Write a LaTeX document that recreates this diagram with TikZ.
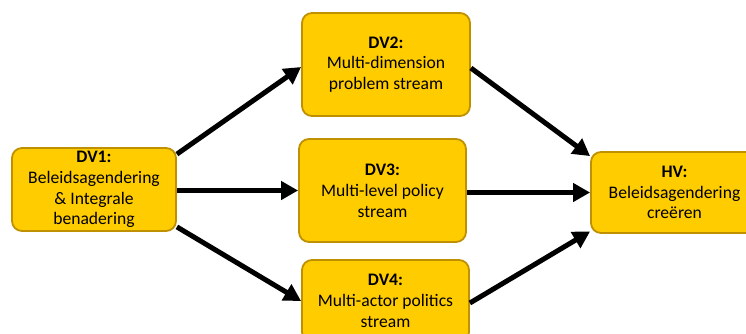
\documentclass[tikz,border=0pt]{standalone}
\usepackage{fontspec}
\setmainfont{Carlito}
\usetikzlibrary{arrows.meta}
\definecolor{boxfill}{RGB}{255,204,0}
\definecolor{boxline}{RGB}{191,144,0}
\begin{document}
\begin{tikzpicture}[x=1pt,y=-1pt,
  box/.style={draw=boxline, fill=boxfill, line width=1.8pt, rounded corners=10pt,
    align=center, inner sep=0pt, font=\fontsize{17.6}{20.8}\selectfont},
  link/.style={line width=5pt, -{Triangle[length=17pt,width=18pt]}}]
\useasboundingbox (0,0) rectangle (746,333);

% variables
\node[box, minimum width=164pt, minimum height=83pt] (dv1) at (94,189.5)
  {\textbf{DV1:}\\Beleidsagendering\\\& Integrale\\benadering};
\node[box, minimum width=168pt, minimum height=103pt] (dv2) at (386,64.5)
  {\textbf{DV2:}\\Multi-dimension\\problem stream};
\node[box, minimum width=167pt, minimum height=103pt] (dv3) at (382.5,190.5)
  {\textbf{DV3:}\\Multi-level policy\\stream};
\node[box, minimum width=167pt, minimum height=82pt] (dv4) at (385.5,301)
  {\textbf{DV4:}\\Multi-actor politics\\stream};
\node[box, minimum width=167pt, minimum height=81pt] (hv) at (674.5,192.5)
  {\textbf{HV:}\\Beleidsagendering\\creëren};

% relations
\draw[link] ([yshift=-7pt]dv1.north east) -- ([yshift=-2.5pt]dv2.west);
\draw[link] ([yshift=-1pt]dv1.east) -- ([yshift=-1pt]dv1.east -| dv3.west);
\draw[link] ([yshift=5pt]dv1.south east) -- (dv4.west);
\draw[link] ([yshift=-3.5pt]dv2.east) -- ([yshift=-5pt]hv.north west);
\draw[link] (dv3.east |- hv.west) -- (hv.west);
\draw[link] ([yshift=-2pt]dv4.east) -- ([yshift=2.5pt]hv.south west);
\end{tikzpicture}
\end{document}
